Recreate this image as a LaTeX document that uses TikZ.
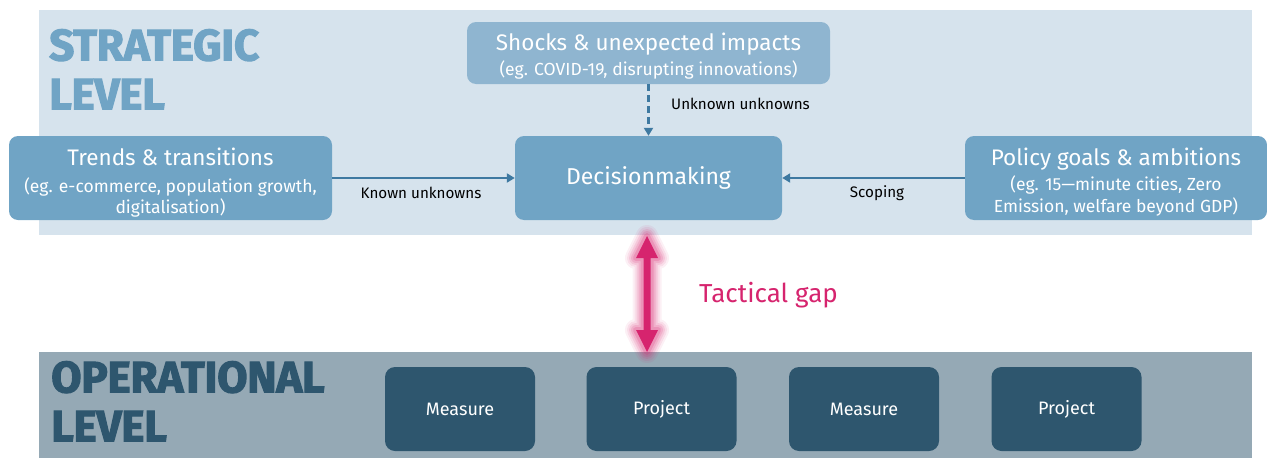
\documentclass[tikz,border=0pt]{standalone}
\usepackage{fontspec}
\setmainfont{Fira Sans}
\usetikzlibrary{arrows.meta}
\definecolor{bandlight}{HTML}{D6E3ED}
\definecolor{bandgrey}{HTML}{95A9B5}
\definecolor{boxblue}{HTML}{70A4C5}
\definecolor{boxlight}{HTML}{8FB5D0}
\definecolor{boxdark}{HTML}{2E566E}
\definecolor{arrowblue}{HTML}{3E79A1}
\definecolor{gappink}{HTML}{D6246E}
\tikzset{
  x=1pt, y=-1pt,
  bigbox/.style={draw=none, fill=boxblue, rounded corners=9pt, text=white, align=center, inner sep=0pt},
  opbox/.style={draw=none, fill=boxdark, rounded corners=10pt, text=white, minimum width=150pt, minimum height=84pt, font=\fontsize{18}{20}\selectfont},
  conn/.style={draw=arrowblue, line width=2.6pt, -{Triangle[length=8pt,width=9pt]}},
  lbl/.style={font=\fontsize{15.2}{17}\selectfont, text=black, inner sep=0pt},
  levellbl/.style={font=\fontsize{44}{49}\selectfont\bfseries\addfontfeatures{FakeBold=2.5,FakeStretch=1.0,LetterSpace=-0.5}, align=left, inner sep=0pt, anchor=north west},
}
\newcommand{\bigline}{\fontsize{22.5}{25}\selectfont}
\newcommand{\smallline}{\fontsize{17.5}{20}\selectfont}
\newcommand{\dn}[2]{\raisebox{-#1pt}[\height][\depth]{#2}}
\begin{document}
\begin{tikzpicture}
\useasboundingbox (0,0) rectangle (1267,458);
% bands
\fill[bandlight] (39,10) rectangle (1252,235);
\fill[bandgrey] (39,352) rectangle (1252,458);
% level labels
\node[levellbl, text=boxblue] (strat) at (49,29) {STRATEGIC\\LEVEL};
\node[levellbl, text=boxdark] (oper) at (51,361) {OPERATIONAL\\LEVEL};
% boxes
\node[bigbox, fill=boxlight, minimum width=363pt, minimum height=62pt] (shock) at (648.5,53)
  {\bigline\dn{3}{Shocks \& unexpected impacts}\\[4pt]\smallline\dn{3}{(eg. COVID-19, disrupting innovations)}};
\node[bigbox, minimum width=323pt, minimum height=84pt] (trend) at (170.5,178)
  {\bigline\dn{4}{Trends \& transitions}\\[9pt]\smallline\dn{6}{(eg. e-commerce, population growth,}\\[3pt]\smallline\dn{5}{digitalisation)}};
\node[bigbox, minimum width=267pt, minimum height=84pt] (dec) at (648.5,178)
  {\fontsize{23}{25}\selectfont Decisionmaking};
\node[bigbox, minimum width=302pt, minimum height=84pt] (pol) at (1116,178)
  {\bigline\dn{7}{Policy goals \& ambitions}\\[9pt]\smallline\dn{2}{(eg. 15---minute cities, Zero}\\[3pt]\smallline\dn{2}{Emission, welfare beyond GDP)}};
% connectors
\draw[conn, dash pattern=on 7pt off 4pt] (shock.south) -- (dec.north);
\draw[conn] (trend.east) -- (dec.west);
\draw[conn] (pol.west) -- (dec.east);
\node[lbl, anchor=west] (uu) at (671,104) {Unknown unknowns};
\node[lbl] (ku) at (421,193) {Known unknowns};
\node[lbl] (sc) at (877,193) {Scoping};
% operational boxes
\node[opbox] (m1) at (460,409) {Measure};
\node[opbox] (p1) at (661.5,409) {Project};
\node[opbox] (m2) at (864,409) {Measure};
\node[opbox] (p2) at (1066.5,409) {Project};
% tactical gap (double arrow with glow)
\coordinate (gtop) at (647,236);
\coordinate (gbot) at (647,352);
\def\gaparrow{(gtop) -- ++(11,22) -- ++(-7.5,0) -- ++(0,72) -- ++(7.5,0) -- (gbot) -- ++(-11,-22) -- ++(7.5,0) -- ++(0,-72) -- ++(-7.5,0) -- cycle}
\foreach \w/\o in {22/0.07,18/0.09,14/0.12,10/0.15,6/0.2}{
  \draw[gappink, opacity=\o, line width=\w pt, line join=round] \gaparrow;
}
\fill[gappink] \gaparrow;
\node[font=\fontsize{26}{28}\selectfont, text=gappink, anchor=west, inner sep=0pt] (tg) at (699,295) {Tactical gap};
\end{tikzpicture}
\end{document}
